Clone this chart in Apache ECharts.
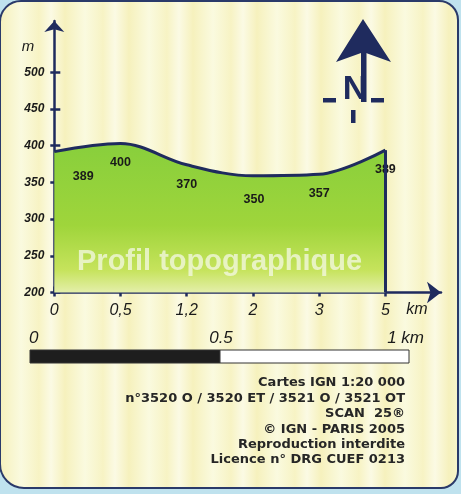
<!DOCTYPE html>
<html>
<head>
<meta charset="UTF-8">
<title>Profil topographique</title>
<script src="https://cdn.jsdelivr.net/npm/echarts@6/dist/echarts.min.js"></script>
<style>
	html, body { margin:0; padding:0; }
	body { width:461px; height:494px; background:#bfe2ee; position:relative; overflow:hidden; }
	#frame {
		position:absolute; left:-1px; top:0; width:460px; height:489px;
		box-sizing:border-box; border:2px solid #2a3a6a;
		border-radius:22px 20px 18px 25px;
		background:repeating-linear-gradient(90deg, #f6f1bd 0px, #fafadf 20px, #f7f3c4 38px, #fbfae4 50px, #f6f1bd 64px);
	}
	#chart { position:absolute; left:0; top:0; width:461px; height:494px; }
</style>
</head>
<body>
<div id="frame"></div>
<div id="chart"></div>

<script type="text/javascript">
	// distance labels (km) along the profile, evenly spaced on the drawing
	var distances = ['0', '0,5', '1,2', '2', '3', '5'];
	// height of the drawn curve at each mark (m)
	var profile = [392, 403, 374, 359, 361, 394];
	// spot heights printed under the curve (m)
	var altitudes = [389, 400, 370, 350, 357, 389];
	var heightTicks = [200, 250, 300, 350, 400, 450, 500];
	var scaleLabels = ['0', '0.5', '1 km'];
	var credits = [
		'Cartes IGN 1:20 000',
		'n°3520 O / 3520 ET / 3521 O / 3521 OT',
		'SCAN  25®',
		'© IGN - PARIS 2005',
		'Reproduction interdite',
		'Licence n° DRG CUEF 0213'
	];

	var navy = '#1f2b5e';
	var font = '"Liberation Sans", Arial, sans-serif';
	var wideFont = '"DejaVu Sans", Verdana, sans-serif';
	var distanceTicks = distances.map(function(d, i) { return i; });

	var points = distances.map(function(d, i)
	{
		var item = { value: [i, profile[i]] };
		if (i === 0) item.label = { offset: [29, 5] };
		if (i === 3) item.label = { offset: [1, 4] };
		return item;
	});

	var gridBox = { left: 54.3, right: 20, top: 21, bottom: 201.5 };

	var graphics = [];
	graphics.push({ type:'text', z:100, style:{ text:'m', x:28, y:47, align:'center', verticalAlign:'middle', font:'italic 15px ' + font, fill:'#1a1a1a' } });
	graphics.push({ type:'text', z:100, style:{ text:'km', x:417, y:310, align:'center', verticalAlign:'middle', font:'italic 16px ' + font, fill:'#1a1a1a' } });
	graphics.push({ type:'text', z:100, style:{ text:'Profil topographique', x:77, y:262, align:'left', verticalAlign:'middle', font:'bold 29px ' + font, fill:'rgba(246,250,236,0.72)' } });

	// north arrow
	graphics.push({ type:'polygon', z:100, shape:{ points:[[363,19],[391,62],[366,53],[361,53],[336,62]] }, style:{ fill:navy } });
	graphics.push({ type:'rect', z:100, shape:{ x:361, y:50, width:5.5, height:52 }, style:{ fill:navy } });
	graphics.push({ type:'text', z:100, style:{ text:'N', x:355, y:90, align:'center', verticalAlign:'middle', font:'bold 34px ' + font, fill:navy } });
	graphics.push({ type:'rect', z:100, shape:{ x:323, y:98, width:13, height:4.5 }, style:{ fill:navy } });
	graphics.push({ type:'rect', z:100, shape:{ x:371, y:98, width:13, height:4.5 }, style:{ fill:navy } });
	graphics.push({ type:'rect', z:100, shape:{ x:351, y:110, width:4.5, height:13 }, style:{ fill:navy } });

	// scale bar
	graphics.push({ type:'rect', z:100, shape:{ x:30, y:350, width:190, height:13 }, style:{ fill:'#1e1e1e', stroke:'#333', lineWidth:1 } });
	graphics.push({ type:'rect', z:100, shape:{ x:220, y:350, width:189, height:13 }, style:{ fill:'#ffffff', stroke:'#333', lineWidth:1 } });
	graphics.push({ type:'text', z:100, style:{ text:scaleLabels[0], x:29, y:338, align:'left', verticalAlign:'middle', font:'italic 17px ' + font, fill:'#1a1a1a' } });
	graphics.push({ type:'text', z:100, style:{ text:scaleLabels[1], x:221, y:338, align:'center', verticalAlign:'middle', font:'italic 17px ' + font, fill:'#1a1a1a' } });
	graphics.push({ type:'text', z:100, style:{ text:scaleLabels[2], x:424, y:338, align:'right', verticalAlign:'middle', font:'italic 17px ' + font, fill:'#1a1a1a' } });

	credits.forEach(function(line, i)
	{
		graphics.push({ type:'text', z:100, style:{ text:line, x:405, y:383 + i * 15.4, align:'right', verticalAlign:'middle', font:'bold 13px ' + wideFont, fill:'#262626' } });
	});

	var chart = echarts.init(document.getElementById('chart'), null, { renderer:'canvas' });
	var option =
	{
		animation: false,
		grid: [
			{ left:gridBox.left, right:gridBox.right, top:gridBox.top, bottom:gridBox.bottom },
			{ left:gridBox.left, right:gridBox.right, top:gridBox.top, bottom:gridBox.bottom }
		],
		xAxis: [
			{
				type:'value', gridIndex:0, min:0, max:5.84,
				splitLine:{ show:false },
				axisLine:{ show:true, symbol:['none','arrow'], symbolSize:[16,14], lineStyle:{ color:navy, width:2.5 } },
				axisTick:{ show:true, customValues:distanceTicks, inside:false, length:4, lineStyle:{ color:navy, width:2.5 } },
				axisLabel:{ customValues:distanceTicks, formatter:function(v){ return distances[v]; }, margin:10, color:'#1a1a1a', fontStyle:'italic', fontSize:16, fontFamily:font }
			},
			{
				type:'value', gridIndex:1, min:0, max:5.84,
				splitLine:{ show:false },
				axisLine:{ show:false },
				axisTick:{ show:true, customValues:distanceTicks, inside:true, length:6, lineStyle:{ color:navy, width:2.5 } },
				axisLabel:{ show:false }
			}
		],
		yAxis: [
			{
				type:'value', gridIndex:0, min:200, max:570, interval:50,
				splitLine:{ show:false },
				axisLine:{ show:true, symbol:['none','arrow'], symbolSize:[15,11], lineStyle:{ color:navy, width:2.5 } },
				axisTick:{ show:true, customValues:heightTicks, inside:false, length:4, lineStyle:{ color:navy, width:2.5 } },
				axisLabel:{ customValues:heightTicks, margin:10, color:'#1a1a1a', fontStyle:'italic', fontWeight:'bold', fontSize:12, fontFamily:font }
			},
			{
				type:'value', gridIndex:1, min:200, max:570, interval:50,
				splitLine:{ show:false },
				axisLine:{ show:false },
				axisTick:{ show:true, customValues:heightTicks, inside:true, length:6, lineStyle:{ color:navy, width:2.5 } },
				axisLabel:{ show:false }
			}
		],
		series: [{
			type:'line',
			xAxisIndex:0,
			yAxisIndex:0,
			data:points,
			smooth:0.35,
			symbol:'circle',
			symbolSize:0,
			lineStyle:{ color:navy, width:3 },
			areaStyle:
			{
				origin:'start',
				opacity:1,
				color:new echarts.graphic.LinearGradient(0, 0, 0, 1, [
					{ offset:0, color:'#88cf3c' },
					{ offset:0.55, color:'#9fd53b' },
					{ offset:0.85, color:'#c6e35c' },
					{ offset:1, color:'#e4efaa' }
				])
			},
			label:
			{
				show:true,
				position:'bottom',
				distance:13,
				color:'#1a1a1a',
				fontSize:12.5,
				fontWeight:'bold',
				fontFamily:font,
				formatter:function(p){ return altitudes[p.dataIndex]; }
			},
			markLine:
			{
				silent:true,
				symbol:['none','none'],
				label:{ show:false },
				lineStyle:{ color:navy, width:3, type:'solid' },
				data:[[ { coord:[5, 200] }, { coord:[5, profile[5]] } ]]
			}
		}],
		graphic: graphics
	};
	chart.setOption(option);
</script>
</body>
</html>
